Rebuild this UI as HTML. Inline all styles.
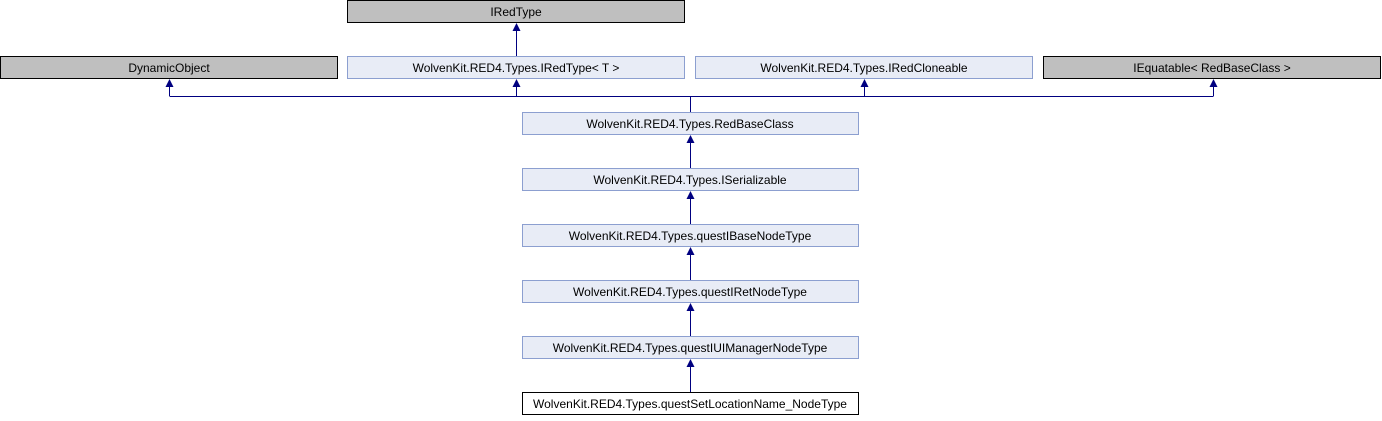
<!DOCTYPE html>
<html><head><style>body{margin:0;background:#fff}</style></head><body>
<svg width="1382" height="416" xmlns="http://www.w3.org/2000/svg" font-family="Liberation Sans, sans-serif" font-size="12">
<defs><marker id="a" markerWidth="8" markerHeight="8" refX="4" refY="0" orient="auto" markerUnits="userSpaceOnUse"></marker></defs>
<g fill="#bfbfbf" stroke="#000">
<rect x="347.5" y="0.5" width="337" height="22"/>
<rect x="0.5" y="56.5" width="337" height="22"/>
<rect x="1043.5" y="56.5" width="337" height="22"/>
</g>
<g fill="#e8ecf6" stroke="#8c9fd0">
<rect x="347.5" y="56.5" width="337" height="22"/>
<rect x="695.5" y="56.5" width="337" height="22"/>
<rect x="522.5" y="112.5" width="336" height="22"/>
<rect x="522.5" y="168.5" width="336" height="22"/>
<rect x="522.5" y="224.5" width="336" height="22"/>
<rect x="522.5" y="280.5" width="336" height="22"/>
<rect x="522.5" y="336.5" width="336" height="22"/>
</g>
<rect x="522.5" y="392.5" width="336" height="22" fill="#fff" stroke="#000"/>
<g stroke="#000080" fill="none">
<path d="M516.5 56V30"/>
<path d="M169.5 96.5H1213.5M169.5 96V86M516.5 96V86M864.5 96V86M1213.5 96V86M690.5 96V112"/>
<path d="M690.5 168V142M690.5 224V198M690.5 280V254M690.5 336V310M690.5 392V366"/>
</g>
<g fill="#000080">
<path d="M516.5 23l-4 8h8z"/>
<path d="M169.5 79l-4 8h8z"/><path d="M516.5 79l-4 8h8z"/><path d="M864.5 79l-4 8h8z"/><path d="M1213.5 79l-4 8h8z"/>
<path d="M690.5 135l-4 8h8z"/><path d="M690.5 191l-4 8h8z"/><path d="M690.5 247l-4 8h8z"/><path d="M690.5 303l-4 8h8z"/><path d="M690.5 359l-4 8h8z"/>
</g>
<g text-anchor="middle" fill="#000">
<text x="516" y="16">IRedType</text>
<text x="169" y="72">DynamicObject</text>
<text x="516" y="72">WolvenKit.RED4.Types.IRedType&lt; T &gt;</text>
<text x="864" y="72">WolvenKit.RED4.Types.IRedCloneable</text>
<text x="1212" y="72">IEquatable&lt; RedBaseClass &gt;</text>
<text x="690" y="128">WolvenKit.RED4.Types.RedBaseClass</text>
<text x="690" y="184">WolvenKit.RED4.Types.ISerializable</text>
<text x="690" y="240">WolvenKit.RED4.Types.questIBaseNodeType</text>
<text x="690" y="296">WolvenKit.RED4.Types.questIRetNodeType</text>
<text x="690" y="352">WolvenKit.RED4.Types.questIUIManagerNodeType</text>
<text x="690" y="408">WolvenKit.RED4.Types.questSetLocationName_NodeType</text>
</g>
</svg>
</body></html>
